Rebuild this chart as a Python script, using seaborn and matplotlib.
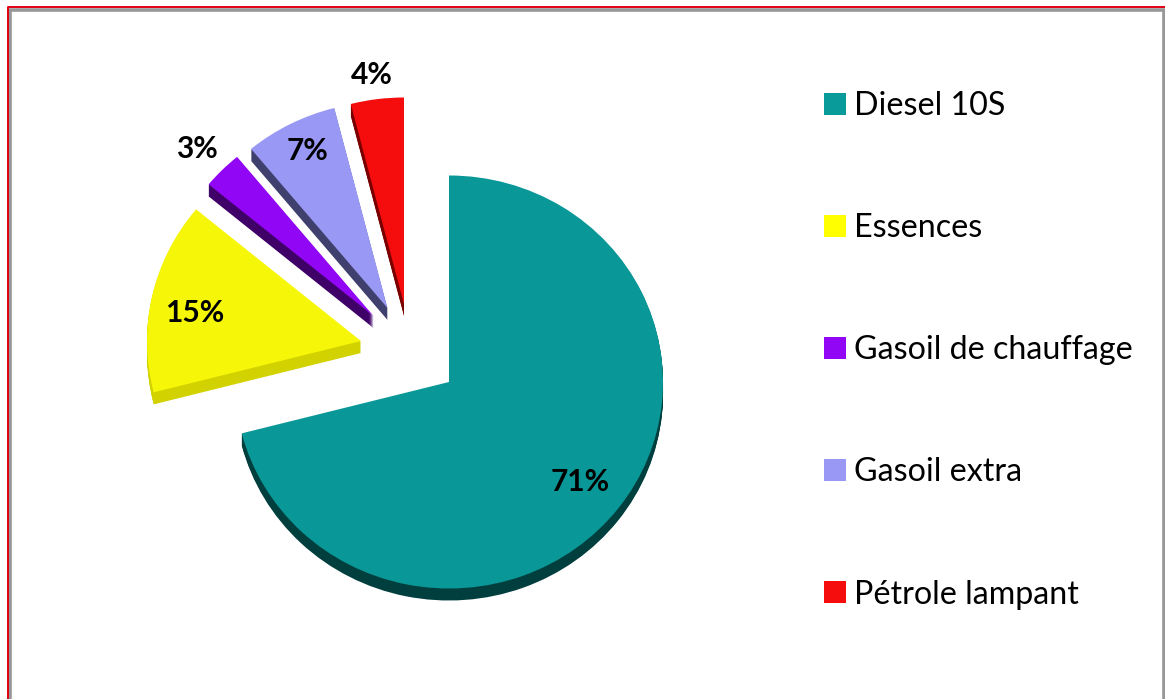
import matplotlib
matplotlib.use('Agg')
import matplotlib.pyplot as plt
import seaborn as sns
from matplotlib.lines import Line2D
from matplotlib.patches import Patch, Rectangle

# --- Data ---
categories = ['Diesel 10S', 'Essences', 'Gasoil de chauffage', 'Gasoil extra', 'Pétrole lampant']
shares = [71, 15, 3, 7, 4]
top_colors = ['#099797', '#f6f608', '#9106f5', '#9999f5', '#f50d0d']
side_colors = ['#003f3e', '#d2d200', '#3f0068', '#40406e', '#7a0000']
legend_colors = ['#099a9a', '#ffff00', '#9106f5', '#9999f5', '#f50d0d']

# --- Layout, in pixels of the 1165x699 picture ---
W, H = 1165, 699
CX, CY = 449, 382
RX, RY = 214, 206.5
DEPTH = 12
slice_shift = [(0, 0), (-88, -41), (-75.5, -66), (-61.5, -74), (-45, -78)]
label_pos = [(580, 482), (195, 313), (197, 149), (308, 151), (372, 75)]


def to_data(px, py):
    return (px - CX) / RX, (CY - py) / RY


sns.set_theme(style='white')
plt.rcParams['font.family'] = ['Lato', 'DejaVu Sans']

fig = plt.figure(figsize=(W / 100, H / 100), dpi=100, facecolor='white')
ax = fig.add_axes([(CX - RX) / W, 1 - (CY + RY) / H, 2 * RX / W, 2 * RY / H])

# Side of the 3D pie: stacked copies, deepest first
for depth in range(DEPTH, 0, -1):
    wedges, _ = ax.pie(shares, colors=side_colors, startangle=90, counterclock=False,
                       wedgeprops={'linewidth': 0, 'clip_on': False})
    for wedge, (dx, dy) in zip(wedges, slice_shift):
        wedge.set_center(to_data(CX + dx, CY + dy + depth))

# Top face with the percent labels
wedges, _, pct_texts = ax.pie(shares, colors=top_colors, startangle=90, counterclock=False,
                              autopct='%1.0f%%', wedgeprops={'linewidth': 0, 'clip_on': False})
for wedge, (dx, dy) in zip(wedges, slice_shift):
    wedge.set_center(to_data(CX + dx, CY + dy))
for txt, (px, py) in zip(pct_texts, label_pos):
    txt.set_position(to_data(px, py))
    txt.set(fontsize=21.5, fontweight='bold', color='black', ha='center', va='center', clip_on=False)

ax.set_aspect('auto')
ax.set_xlim(-1, 1)
ax.set_ylim(-1, 1)
ax.axis('off')

# Legend
handles = [Patch(facecolor=c, edgecolor='none') for c in legend_colors]
legend_pt = 23.2
font_px = legend_pt * 100 / 72
fig.legend(handles, categories, loc='upper left', bbox_to_anchor=(824 / W, 1 - 91 / H),
           bbox_transform=fig.transFigure, frameon=False, fontsize=legend_pt,
           borderpad=0, borderaxespad=0, handlelength=22 / font_px, handleheight=22 / font_px,
           handletextpad=8 / font_px, labelspacing=2.86, labelcolor='black')

# Window frame: grey band with a thin red line outside it
fig.add_artist(Rectangle((9.5 / W, -0.01), (W - 11) / W, 1.01 - 9.5 / H, transform=fig.transFigure,
                         facecolor='none', edgecolor='#979797', linewidth=2.6))
fig.add_artist(Line2D([7.8 / W, 7.8 / W, 1], [0, 1 - 6.5 / H, 1 - 6.5 / H], transform=fig.transFigure,
                      color='#e00010', linewidth=1.4))

fig.savefig('out.png', dpi=100)
